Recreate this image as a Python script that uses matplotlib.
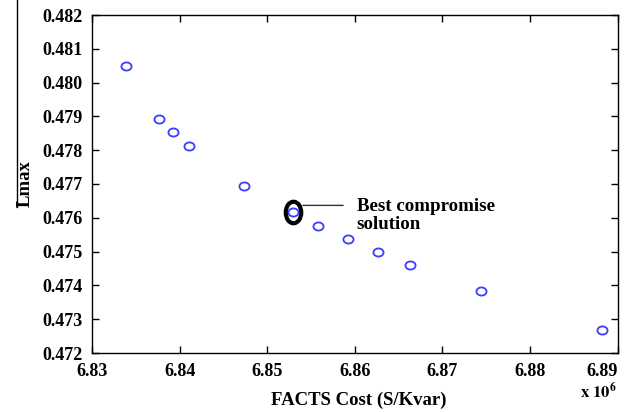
import matplotlib
matplotlib.use("Agg")
import matplotlib.pyplot as plt
from matplotlib.markers import MarkerStyle
from matplotlib.transforms import Affine2D, offset_copy
from matplotlib.lines import Line2D

# Data (FACTS cost in units of 1e6, Lmax)
cost = [6.83389, 6.83769, 6.83929, 6.84109, 6.84741, 6.85294, 6.85586,
        6.85922, 6.86265, 6.86634, 6.87442, 6.88825]
lmax = [0.48049, 0.47891, 0.47854, 0.47813, 0.47693, 0.47617, 0.47577,
        0.47538, 0.47500, 0.47461, 0.47382, 0.47267]
best_index = 5
xticks = [6.83, 6.84, 6.85, 6.86, 6.87, 6.88, 6.89]
yticks = [0.472, 0.473, 0.474, 0.475, 0.476, 0.477, 0.478, 0.479, 0.480, 0.481, 0.482]

plt.rcParams['font.family'] = ['Liberation Serif', 'DejaVu Serif']
plt.rcParams['font.weight'] = 'bold'
plt.rcParams['mathtext.fontset'] = 'stix'

fig = plt.figure(figsize=(6.32, 4.12), dpi=100)
ax = fig.add_axes([92/632, 1-353/412, 525.5/632, 338/412])

pt_marker = MarkerStyle('o', transform=Affine2D().scale(1.12, 0.9))
ax.plot(cost, lmax, linestyle='none', marker=pt_marker, markersize=6.5,
        markerfacecolor='none', markeredgecolor='#3c3cff', markeredgewidth=1.3)

# best compromise marker (black ellipse)
ell = MarkerStyle('o', transform=Affine2D().scale(0.72, 1.0))
bx, by = cost[best_index], lmax[best_index]
ax.plot([bx], [by], linestyle='none', marker=ell, markersize=15.5,
        markerfacecolor='none', markeredgecolor='black', markeredgewidth=3)

ax.annotate('', xy=(bx, by),
            xycoords=offset_copy(ax.transData, fig=fig, x=7.2, y=4.8, units='points'),
            xytext=(29, 0), textcoords='offset points',
            arrowprops=dict(arrowstyle='-', color='#333333', lw=1.0, shrinkA=0, shrinkB=0))
ax.annotate('Best compromise\nsolution', xy=(bx, by), xytext=(46, -2.5),
            textcoords='offset points', ha='left', va='center',
            fontsize=13.6, fontweight='bold', linespacing=1.05)

ax.set_xlim(6.83, 6.89)
ax.set_ylim(0.472, 0.482)
ax.set_xticks(xticks)
ax.set_yticks(yticks)
ax.set_xticklabels([f"{v:.2f}" for v in xticks])
ax.set_yticklabels([f"{v:.3f}" for v in yticks])
ax.tick_params(direction='in', length=5, width=1, top=True, right=True,
               labelsize=13, pad=7)
for lab in ax.get_xticklabels() + ax.get_yticklabels():
    lab.set_fontweight('bold')
ax.get_xticklabels()[-1].set_horizontalalignment('right')
for s in ax.spines.values():
    s.set_linewidth(1.0)

fig.text(359/632, 1-400/412, 'FACTS Cost (S/Kvar)', ha='center', va='center',
         fontsize=13.5, fontweight='bold')
fig.text(25/632, 1-184/412, 'Lmax', ha='center', va='center', rotation=90,
         fontsize=13.5, fontweight='bold')
fig.text(617/632, 1-392/412, r'$\mathbf{x\ 10^{6}}$', ha='right', va='center',
         fontsize=12)

fig.add_artist(Line2D([17/632, 17/632], [1-0/412, 1-207/412],
                      transform=fig.transFigure, color='black', lw=1.0))

fig.savefig('out.png', dpi=100)
